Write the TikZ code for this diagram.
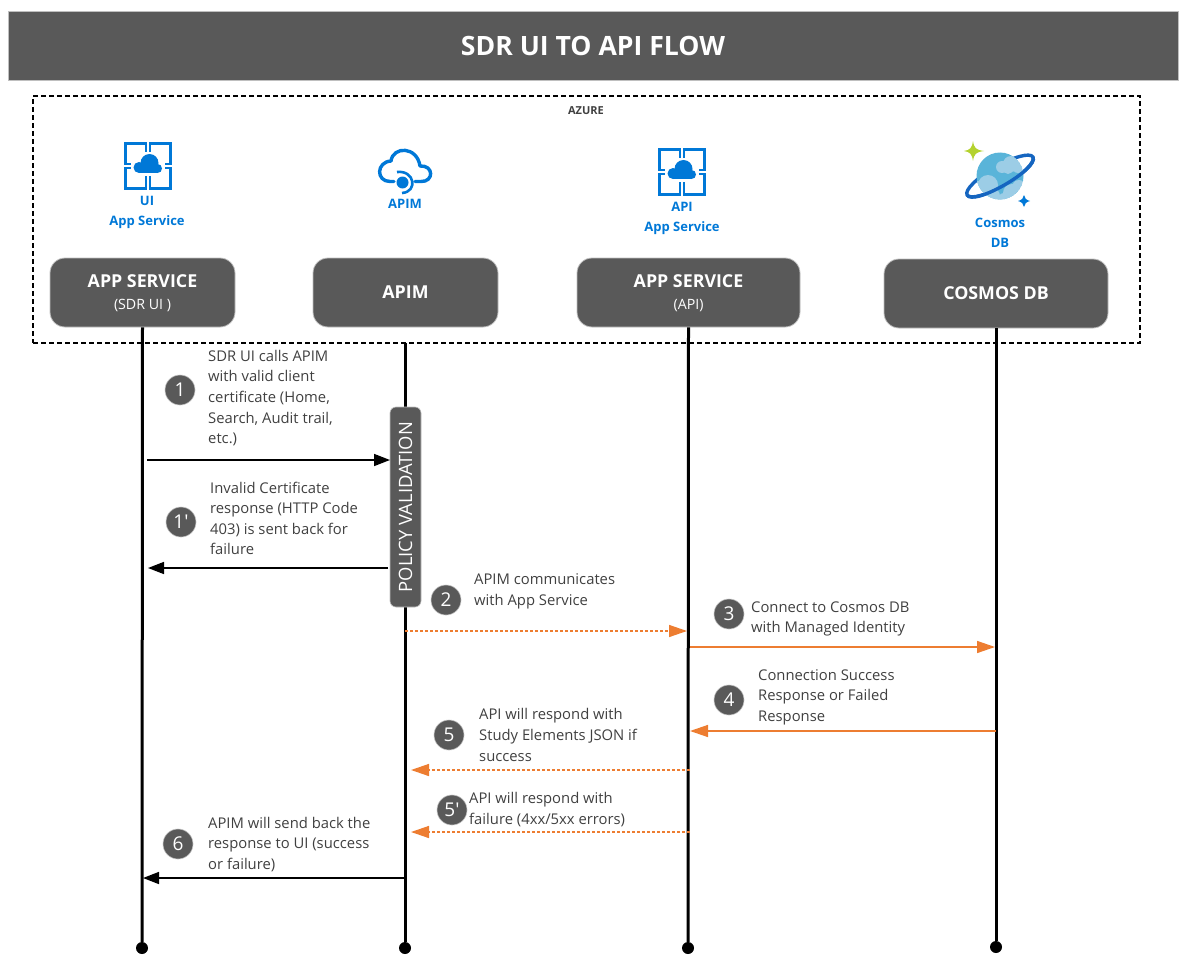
\documentclass[tikz,border=0pt]{standalone}
\usepackage{fontspec}
\setmainfont{Open Sans}
\usetikzlibrary{arrows.meta}
\definecolor{slate}{HTML}{595959}
\definecolor{edgegrey}{HTML}{BFBFBF}
\definecolor{inktext}{HTML}{404040}
\definecolor{azblue}{HTML}{0078D7}
\definecolor{flow}{HTML}{ED7D31}
\definecolor{globe}{HTML}{59B4D9}
\definecolor{globecloud}{HTML}{9CCDE6}
\definecolor{ringblue}{HTML}{1565C0}
\definecolor{sparkgreen}{HTML}{B4D22E}
\tikzset{
    cloudglyph/.pic={
        \fill[azblue] (-9,1.5) circle (5.5) (9.5,2.5) circle (4.5) (1.5,-3) circle (9);
        \fill[azblue] (-9,2) rectangle (9.5,7);
    },
    appicon/.pic={
        \foreach \qx/\qy in {-22.5/-22.5, 2/-22.5, -22.5/2, 2/2}
            \draw[azblue, line width=2.6] (\qx,\qy) rectangle ++(20.5,20.5);
        \fill[white] (-17,-14) rectangle (17,10);
        \pic {cloudglyph};
    }
}
\begin{document}
\begin{tikzpicture}[
    x=1pt, y=-1pt,
    lifebox/.style={draw=edgegrey, line width=0.8, fill=slate, rounded corners=15,
        text=white, minimum height=69, inner sep=0pt, align=center,
        font=\fontsize{17.8}{22}\selectfont\bfseries},
    iconlabel/.style={text=azblue, align=center, inner sep=0pt,
        font=\fontsize{13}{20}\selectfont\bfseries},
    lifeline/.style={line width=3, black},
    enddot/.style={circle, fill=black, minimum size=12, inner sep=0pt},
    stepmark/.style={circle, draw=edgegrey, line width=0.6, fill=slate, text=white,
        minimum size=30, inner sep=0pt, font=\fontsize{19}{22}\selectfont},
    note/.style={anchor=west, align=left, inner sep=0pt, text=inktext,
        font=\fontsize{14.8}{20.6}\selectfont},
    callmsg/.style={line width=1.6, black, -{Triangle[length=16, width=12]}},
    flowmsg/.style={line width=1.4, flow, -{Triangle[length=18, width=12]}},
    flowdash/.style={flowmsg, dash pattern=on 3 off 2}
]
    \useasboundingbox (0,0) rectangle (1186,979);
    \node[draw=edgegrey, fill=slate, text=white, minimum width=1170, minimum height=69,
        inner sep=0pt, font=\fontsize{26.6}{30}\selectfont\bfseries] (title) at (593,45.5) {SDR UI TO API FLOW};
    \node[draw=black, line width=2.7, dash pattern=on 5 off 3, minimum width=1107, minimum height=247,
        inner sep=0pt] (azure) at (586.5,219.5) {};
    \node[text=inktext, inner sep=0pt, font=\fontsize{11}{13}\selectfont\bfseries] (azurelabel) at (586,111) {AZURE};

    \pic at (148,166) {appicon};
    \pic at (682,172) {appicon};
    \node[iconlabel] (uilabel) at (147,212) {UI\\App Service};
    \node[iconlabel] (apimlabel) at (405,204) {APIM};
    \node[iconlabel] (apilabel) at (682,218.5) {API\\App Service};
    \node[iconlabel] (cosmoslabel) at (1000,232.5) {Cosmos\\DB};

    % apim icon
    \draw[azblue, line width=3.4, line cap=round, line join=round]
        (394,181.5) -- (390,181.5) .. controls (376,181.5) and (376,162) .. (391,161)
        .. controls (393,146) and (417,146) .. (420,166)
        .. controls (434,165) and (434,182) .. (421,181.5) -- (415,181.5);
    \fill[azblue] (402.5,182.5) circle (6);
    \draw[azblue, line width=2.6] (397,172) .. controls (415,170) and (418,192) .. (402,193);

    % cosmos icon
    \begin{scope}[rotate around={30:(1000,176)}]
        \draw[ringblue, line width=3.4] (1000,176) ellipse (38 and 10);
    \end{scope}
    \begin{scope}
        \clip (1000,176) circle (23.5);
        \fill[globe] (1000,176) circle (23.5);
        \fill[globecloud] (1002,167) circle (6) (1011,164) circle (8) (1018,167) circle (6) (1008,169) circle (5);
        \fill[globecloud] (988,185) circle (10) (978,190) circle (9) (992,196) circle (8);
        \fill[globecloud] (1012,193) circle (9) (1019,187) circle (7) (1004,199) circle (6);
    \end{scope}
    \begin{scope}[rotate around={30:(1000,176)}]
        \draw[ringblue, line width=3.4] (962,176) .. controls (962,189.3) and (1038,189.3) .. (1038,176);
    \end{scope}
    \fill[sparkgreen] (973,141) .. controls (974,148) and (976,150) .. (984,151)
        .. controls (976,152) and (974,154) .. (973,161)
        .. controls (972,154) and (970,152) .. (964,151)
        .. controls (970,150) and (972,148) .. (973,141) -- cycle;
    \fill[azblue] (1024,195) .. controls (1024.5,198) and (1026,200) .. (1030,201)
        .. controls (1026,202) and (1024.5,204) .. (1024,207)
        .. controls (1023.5,204) and (1022,202) .. (1018,201)
        .. controls (1022,200) and (1023.5,198) .. (1024,195) -- cycle;

    \node[lifebox, minimum width=185, text depth=0pt] (uibox) at (142.5,292.5) {APP SERVICE\\[0pt]{\fontsize{14.2}{18}\selectfont\mdseries (SDR UI )}};
    \node[lifebox, minimum width=185] (apimbox) at (405.5,292.5) {APIM};
    \node[lifebox, minimum width=223, text depth=0pt] (apibox) at (688.5,292.5) {APP SERVICE\\[0pt]{\fontsize{14.2}{18}\selectfont\mdseries (API)}};
    \node[lifebox, minimum width=224] (cosmosbox) at (996,293.5) {COSMOS DB};

    \coordinate (apimtop) at (405,343);
    \node[enddot] (uiend) at (142,948) {};
    \node[enddot] (apimend) at (405,948) {};
    \node[enddot] (apiend) at (688,948) {};
    \node[enddot] (cosmosend) at (996,947) {};
    \draw[lifeline] (uibox.south) -- (uiend);
    \draw[lifeline] (apimtop) -- (apimend);
    \draw[lifeline] (apibox.south) -- (apiend);
    \draw[lifeline] (cosmosbox.south) -- (cosmosend);

    \node[draw=edgegrey, line width=0.6, fill=slate, text=white, rounded corners=6, rotate=90,
        minimum width=200, minimum height=31, inner sep=0pt,
        font=\fontsize{18.4}{22}\selectfont] (policy) at (405.5,507) {POLICY VALIDATION};

    \node[stepmark] (s1) at (180,390) {1};
    \node[stepmark] (s1p) at (181,522) {1\textquotesingle};
    \node[stepmark] (s2) at (446,600) {2};
    \node[stepmark] (s3) at (729,614) {3};
    \node[stepmark] (s4) at (729,700) {4};
    \node[stepmark] (s5) at (449,735) {5};
    \node[stepmark] (s5p) at (452,810) {5\textquotesingle};
    \node[stepmark] (s6) at (178,844) {6};

    \node[note] (n1) at (208,398) {SDR UI calls APIM\\with valid client\\certificate (Home,\\Search, Audit trail,\\etc.)};
    \node[note] (n1p) at (210,518.5) {Invalid Certificate\\response (HTTP Code\\403) is sent back for\\failure};
    \node[note] (n2) at (474,591.5) {APIM communicates\\with App Service};
    \node[note] (n3) at (751,619) {Connect to Cosmos DB\\with Managed Identity};
    \node[note] (n4) at (758,697) {Connection Success\\Response or Failed\\Response};
    \node[note] (n5) at (479,735) {API will respond with\\Study Elements JSON if\\success};
    \node[note] (n5p) at (469,809.5) {API will respond with\\failure (4xx/5xx errors)};
    \node[note] (n6) at (208,844.5) {APIM will send back the\\response to UI (success\\or failure)};

    \coordinate (m1a) at (147,460);
    \coordinate (m1b) at (390,460);
    \coordinate (m1pa) at (388,568);
    \coordinate (m1pb) at (148,568);
    \coordinate (m2a) at (405,631);
    \coordinate (m2b) at (687,631);
    \coordinate (m3a) at (690,647);
    \coordinate (m3b) at (995,647);
    \coordinate (m4a) at (996,731);
    \coordinate (m4b) at (690,731);
    \coordinate (m5a) at (690,770);
    \coordinate (m5b) at (411,770);
    \coordinate (m5pa) at (690,832);
    \coordinate (m5pb) at (411,832);
    \coordinate (m6a) at (405,878);
    \coordinate (m6b) at (143,878);
    \draw[callmsg] (m1a) -- (m1b);
    \draw[callmsg] (m1pa) -- (m1pb);
    \draw[flowdash] (m2a) -- (m2b);
    \draw[flowmsg] (m3a) -- (m3b);
    \draw[flowmsg] (m4a) -- (m4b);
    \draw[flowdash] (m5a) -- (m5b);
    \draw[flowdash] (m5pa) -- (m5pb);
    \draw[callmsg] (m6a) -- (m6b);
\end{tikzpicture}
\end{document}
